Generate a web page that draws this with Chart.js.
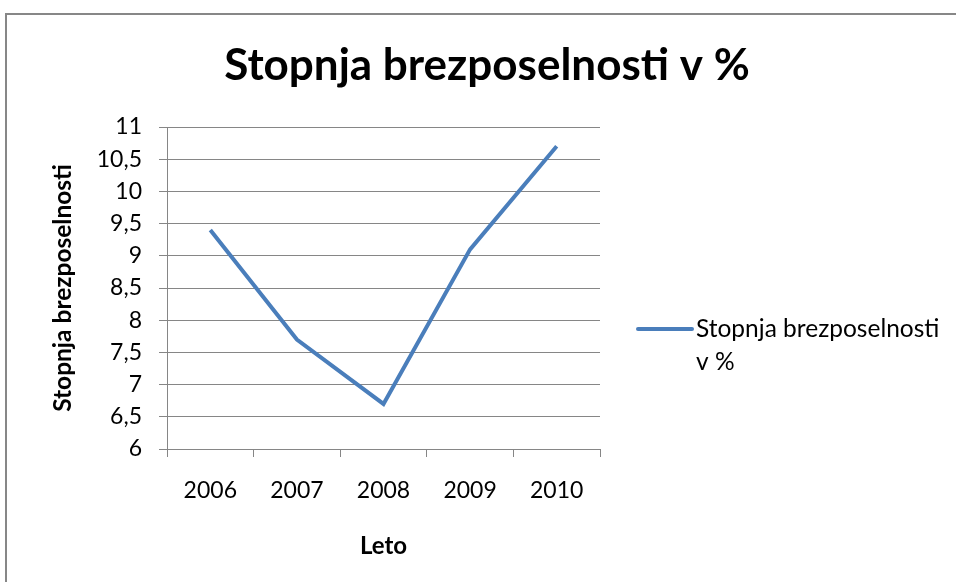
<!DOCTYPE html>
<html>
<head>
<meta charset="utf-8">
<script src="https://cdn.jsdelivr.net/npm/chart.js@4.4.1/dist/chart.umd.min.js"></script>
<style>
  body { margin: 0; background: #fff; overflow: hidden; }
  #frame { position: absolute; left: 5px; top: 13px; width: 1000px; height: 700px; border: 2px solid #878787; }
  #chart { position: absolute; left: 0; top: 0; }
</style>
</head>
<body>
<div id="frame"></div>
<canvas id="chart" width="956" height="582"></canvas>
<script>
// DATA
const years = ['2006', '2007', '2008', '2009', '2010']
const unemployment = [9.4, 7.7, 6.7, 9.1, 10.7]
const seriesName = ['Stopnja brezposelnosti', 'v %']
const chartTitle = 'Stopnja brezposelnosti v %'

const FONT = 'Lato, "Open Sans", sans-serif'
const GRID = '#868686'
const LINE = '#4a7ebb'

// title centred on the whole frame, legend wraps on two lines -> drawn by hand
const frameText = {
  id: 'frameText',
  afterDraw(chart) {
    const ctx = chart.ctx
    ctx.save()
    ctx.fillStyle = '#000'
    ctx.font = 'bold 44px ' + FONT
    ctx.textAlign = 'center'
    ctx.textBaseline = 'alphabetic'
    ctx.fillText(chartTitle, 487, 80)

    const x = chart.chartArea.right + 38
    const y = 329
    ctx.strokeStyle = LINE
    ctx.lineWidth = 4
    ctx.lineCap = 'round'
    ctx.beginPath()
    ctx.moveTo(x, y)
    ctx.lineTo(x + 54, y)
    ctx.stroke()
    ctx.font = '24.5px ' + FONT
    ctx.textAlign = 'left'
    ctx.textBaseline = 'middle'
    seriesName.forEach((t, i) => ctx.fillText(t, x + 58, y + i * 33))
    ctx.restore()
  }
}

new Chart(document.getElementById('chart'), {
  type: 'line',
  data: {
    labels: years,
    datasets: [{
      label: chartTitle,
      data: unemployment,
      borderColor: LINE,
      borderWidth: 4,
      pointRadius: 0,
      tension: 0,
      fill: false
    }]
  },
  options: {
    responsive: false,
    animation: false,
    layout: { padding: { left: 0, top: 127, right: 356, bottom: 0 } },
    plugins: {
      legend: { display: false },
      tooltip: { enabled: false },
      title: { display: false }
    },
    scales: {
      x: {
        offset: true,
        grid: { offset: true, drawOnChartArea: false, color: GRID, tickLength: 8 },
        border: { color: GRID, width: 1 },
        ticks: { color: '#000', font: { family: FONT, size: 23 }, padding: 20, maxRotation: 0 },
        title: {
          display: true, text: 'Leto', color: '#000',
          font: { family: FONT, size: 24, weight: 'bold' },
          padding: { top: 0, bottom: 21 }
        },
        afterFit(scale) { scale.height = 133 }
      },
      y: {
        min: 6,
        max: 11,
        grid: { color: GRID, tickLength: 8 },
        border: { color: GRID, width: 1 },
        ticks: {
          stepSize: 0.5,
          color: '#000',
          font: { family: FONT, size: 23 },
          padding: 17,
          callback: v => String(v).replace('.', ',')
        },
        title: {
          display: true, text: 'Stopnja brezposelnosti', color: '#000',
          font: { family: FONT, size: 24.5, weight: 'bold' },
          padding: { top: 48, bottom: 0 }
        },
        afterFit(scale) { scale.width = 167 }
      }
    }
  },
  plugins: [frameText]
})
</script>
</body>
</html>
